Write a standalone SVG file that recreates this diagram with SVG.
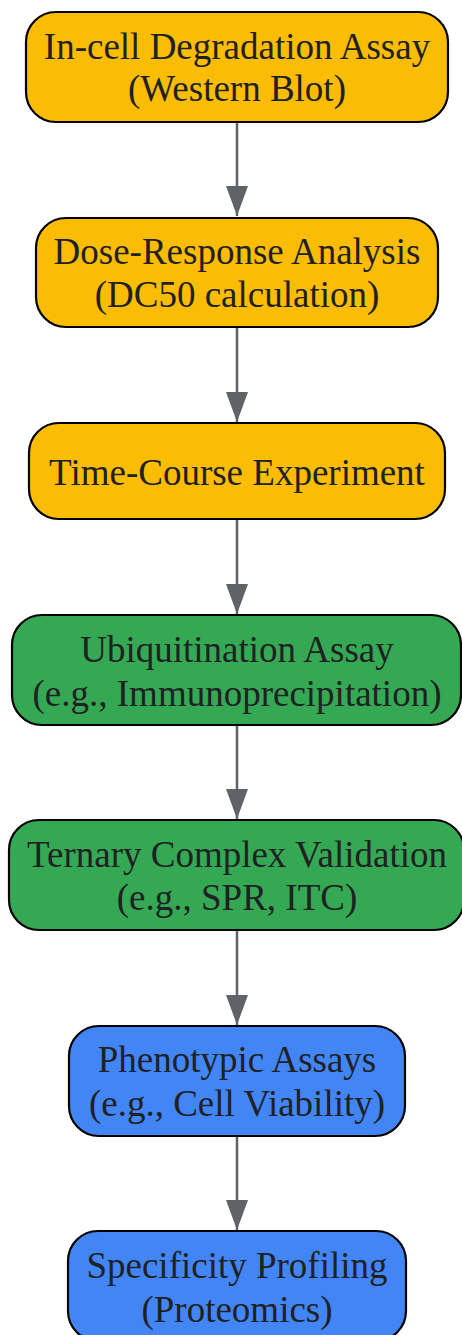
<svg xmlns="http://www.w3.org/2000/svg" width="462" height="1335" viewBox="0 0 462 1335">
<style>
.box{stroke:#000;stroke-width:2.2}
.y{fill:#FBBC04}.g{fill:#34A853}.b{fill:#4285F4}
.t{font-family:"Liberation Serif","Times New Roman",serif;font-size:37px;fill:#202124;text-anchor:middle}
.e{stroke:#606368;stroke-width:2.5;fill:none}
</style>
<defs>
<marker id="ah" markerUnits="userSpaceOnUse" markerWidth="30" markerHeight="22" refX="30" refY="11" orient="auto" viewBox="0 0 30 22">
<path d="M0,0 L30,11 L0,22 Z" fill="#5F6368"/>
</marker>
</defs>
<rect width="462" height="1335" fill="#fff"/>
<g id="connectors">
<path class="e" d="M237,123 V216" marker-end="url(#ah)"/>
<path class="e" d="M237,328 V422" marker-end="url(#ah)"/>
<path class="e" d="M237,520 V614" marker-end="url(#ah)"/>
<path class="e" d="M237,726 V819" marker-end="url(#ah)"/>
<path class="e" d="M237,931 V1025" marker-end="url(#ah)"/>
<path class="e" d="M237,1137 V1230" marker-end="url(#ah)"/>
</g>
<g id="n1"><rect class="box y" x="26" y="12" width="422" height="110" rx="30"/>
<text class="t" x="237" y="59">In-cell Degradation Assay</text><text class="t" x="237" y="101">(Western Blot)</text></g>
<g id="n2"><rect class="box y" x="36" y="218" width="402" height="109" rx="30"/>
<text class="t" x="237" y="264">Dose-Response Analysis</text><text class="t" x="237" y="307">(DC50 calculation)</text></g>
<g id="n3"><rect class="box y" x="29" y="423" width="416" height="96" rx="30"/>
<text class="t" x="237" y="485">Time-Course Experiment</text></g>
<g id="n4"><rect class="box g" x="12" y="615" width="449" height="110" rx="30"/>
<text class="t" x="237" y="662">Ubiquitination Assay</text><text class="t" x="237" y="706">(e.g., Immunoprecipitation)</text></g>
<g id="n5"><rect class="box g" x="9" y="820" width="455" height="110" rx="30"/>
<text class="t" x="237" y="867">Ternary Complex Validation</text><text class="t" x="237" y="910">(e.g., SPR, ITC)</text></g>
<g id="n6"><rect class="box b" x="69" y="1026" width="336" height="110" rx="30"/>
<text class="t" x="237" y="1072">Phenotypic Assays</text><text class="t" x="237" y="1116">(e.g., Cell Viability)</text></g>
<g id="n7"><rect class="box b" x="68" y="1231" width="338" height="110" rx="30"/>
<text class="t" x="237" y="1278">Specificity Profiling</text><text class="t" x="237" y="1322">(Proteomics)</text></g>
</svg>
